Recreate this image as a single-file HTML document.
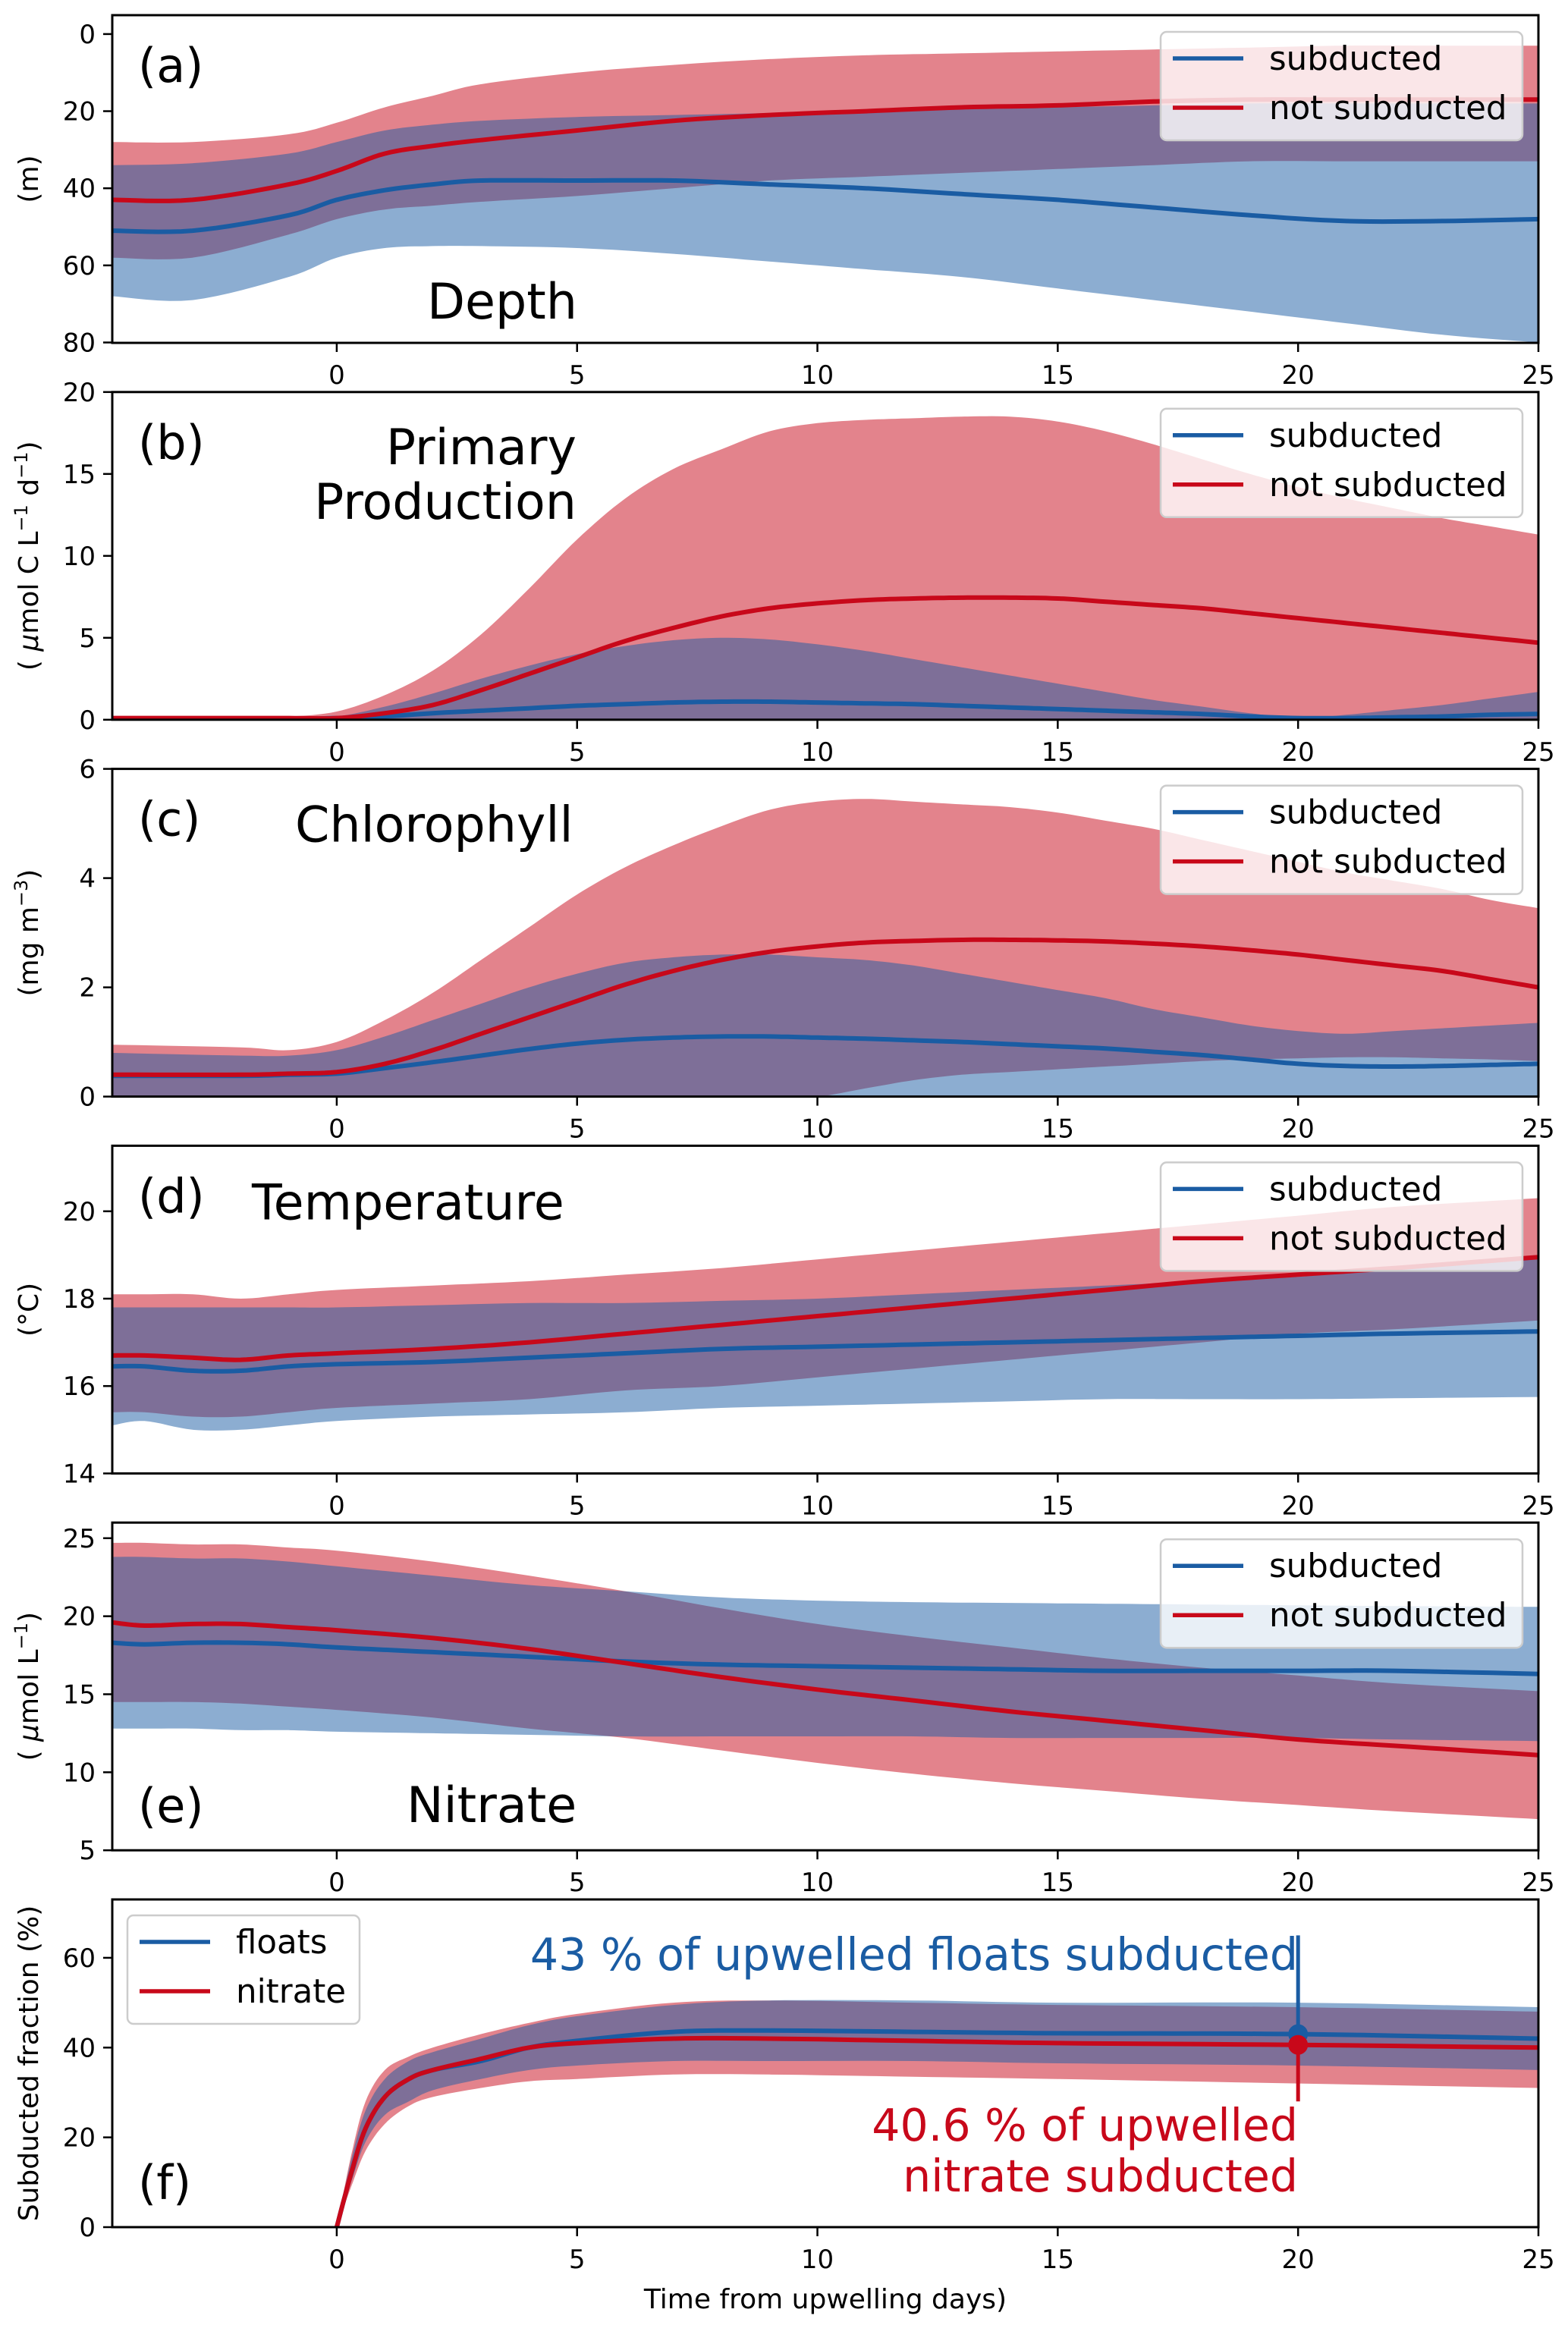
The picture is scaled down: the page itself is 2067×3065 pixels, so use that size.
<!DOCTYPE html>
<html><head><meta charset="utf-8">
<style>
html,body{margin:0;padding:0;background:#fff;}
svg{display:block;font-family:"DejaVu Sans","Liberation Sans",sans-serif;}
</style></head>
<body>
<svg id="fig" width="2067" height="3065" viewBox="0 0 2067 3065" xmlns="http://www.w3.org/2000/svg"></svg>
<script>
// ---------- data ----------
const daysA = [-4.67,-3,-1,0,1,2,3,5,7,9,11,13,15,17,19,21,23,25];
const aRedUp = [28,28,26,23,19,16,13,10,8,6.5,5.5,5,4.5,4,3.5,3,3,3];
const aRedLo = [58,58,52,48,45.5,44.5,43.5,42,40,38,37,36,35,34,33,33,33,33];
const aRedMean = [43,43,39,35.5,31,29,27.5,25,22.5,21,20,19,18.5,17.5,17,17,17,17];
const aBlueUp = [34,33.5,31,28,25,23.5,22.5,21.5,21,20.5,20,19.5,19,18.5,18,18,18,18];
const aBlueLo = [68,69,63,58,55.5,55,55,55.5,57,59,61,63,66,69,72,75,78,80];
const aBlueMean = [51,51,47,43,40.5,39,38,38,38,39,40,41.5,43,45,47,48.5,48.5,48];

const daysBC = [-4.67,-2,-1,0,1,2,3,4,5,6,7,8,9,10,11,12,13,14,15,16,17,18,19,20,21,22,23,24,25];
const bRedUp = [0.2,0.2,0.2,0.5,1.5,3,5.2,8,11,13.5,15.3,16.5,17.6,18.1,18.3,18.4,18.5,18.5,18.2,17.6,16.8,15.9,15,14.2,13.5,12.9,12.3,11.8,11.3];
const bRedLo = [0,0,0,0,0,0,0,0,0,0,0,0,0,0,0,0,0,0,0,0,0,0,0,0,0,0,0,0,0];
const bRedMean = [0.1,0.1,0.1,0.1,0.4,0.9,1.8,2.8,3.8,4.8,5.6,6.3,6.8,7.1,7.3,7.4,7.45,7.45,7.4,7.2,7.0,6.8,6.5,6.2,5.9,5.6,5.3,5.0,4.7];
const bBlueUp = [0.1,0.1,0.1,0.2,0.8,1.6,2.5,3.3,4.0,4.5,4.85,5.0,4.9,4.6,4.2,3.7,3.2,2.7,2.2,1.7,1.2,0.8,0.4,0.1,0.3,0.6,0.9,1.3,1.7];
const bBlueLo = [0,0,0,0,0,0,0,0,0,0,0,0,0,0,0,0,0,0,0,0,0,0,0,0,0,0,0,0,0];
const bBlueMean = [0.05,0.05,0.05,0.1,0.2,0.4,0.55,0.7,0.85,0.95,1.05,1.1,1.1,1.05,1.0,0.95,0.85,0.75,0.65,0.55,0.45,0.35,0.2,0.1,0.1,0.15,0.2,0.3,0.35];

const cRedUp = [0.95,0.9,0.85,1.0,1.4,1.9,2.5,3.1,3.7,4.2,4.6,4.95,5.25,5.4,5.45,5.4,5.35,5.3,5.2,5.05,4.9,4.7,4.5,4.3,4.1,3.95,3.8,3.6,3.45];
const cRedLo = [0,0,0,0,0,0,0,0,0,0,0,0,0,0,0.15,0.3,0.4,0.45,0.5,0.55,0.6,0.65,0.68,0.7,0.72,0.72,0.7,0.68,0.65];
const cRedMean = [0.4,0.4,0.42,0.45,0.6,0.85,1.15,1.45,1.75,2.05,2.3,2.5,2.65,2.75,2.82,2.85,2.87,2.87,2.86,2.84,2.8,2.75,2.68,2.6,2.5,2.4,2.3,2.15,2.0];
const cBlueUp = [0.8,0.75,0.75,0.85,1.1,1.4,1.7,2.0,2.25,2.45,2.55,2.6,2.6,2.55,2.5,2.4,2.25,2.1,1.95,1.8,1.6,1.45,1.3,1.2,1.15,1.2,1.25,1.3,1.35];
const cBlueLo = [0,0,0,0,0,0,0,0,0,0,0,0,0,0,0,0,0,0,0,0,0,0,0,0,0,0,0,0,0];
const cBlueMean = [0.38,0.38,0.4,0.42,0.52,0.63,0.75,0.87,0.97,1.04,1.08,1.1,1.1,1.08,1.06,1.03,1.0,0.96,0.92,0.88,0.82,0.76,0.68,0.6,0.56,0.55,0.56,0.58,0.6];

const daysDE = [-4.67,-4,-3,-2,-1,0,2,4,6,8,10,12,14,16,18,20,22,25];
const dRedUp = [18.1,18.1,18.1,18.0,18.1,18.2,18.3,18.4,18.55,18.7,18.9,19.1,19.3,19.5,19.7,19.9,20.1,20.3];
const dRedLo = [15.4,15.4,15.3,15.3,15.4,15.5,15.6,15.7,15.9,16.0,16.2,16.4,16.6,16.8,17.0,17.2,17.3,17.5];
const dRedMean = [16.7,16.7,16.65,16.6,16.7,16.75,16.85,17.0,17.2,17.4,17.6,17.8,18.0,18.2,18.4,18.55,18.7,18.95];
const dBlueUp = [17.8,17.8,17.8,17.8,17.8,17.8,17.85,17.9,17.9,17.95,18.0,18.1,18.2,18.3,18.4,18.5,18.7,19.0];
const dBlueLo = [15.1,15.2,15.0,15.0,15.1,15.2,15.3,15.35,15.4,15.5,15.55,15.6,15.65,15.7,15.7,15.7,15.72,15.75];
const dBlueMean = [16.45,16.45,16.35,16.35,16.45,16.5,16.55,16.65,16.75,16.85,16.9,16.95,17.0,17.05,17.1,17.15,17.2,17.25];

const eRedUp = [24.7,24.7,24.6,24.6,24.4,24.2,23.5,22.6,21.6,20.5,19.5,18.7,18.0,17.3,16.7,16.2,15.7,15.2];
const eRedLo = [14.5,14.5,14.5,14.4,14.2,14.0,13.5,12.8,12.2,11.4,10.6,9.9,9.3,8.8,8.3,7.9,7.5,7.0];
const eRedMean = [19.6,19.4,19.5,19.5,19.3,19.1,18.6,17.9,17.0,16.1,15.3,14.6,13.9,13.3,12.7,12.1,11.7,11.1];
const eBlueUp = [23.8,23.8,23.7,23.7,23.5,23.2,22.6,22.0,21.6,21.2,21.0,20.9,20.85,20.8,20.75,20.7,20.65,20.6];
const eBlueLo = [12.8,12.8,12.8,12.7,12.7,12.6,12.5,12.4,12.3,12.3,12.3,12.3,12.2,12.2,12.2,12.2,12.1,12.0];
const eBlueMean = [18.3,18.2,18.3,18.3,18.2,18.0,17.7,17.4,17.1,16.9,16.8,16.7,16.6,16.5,16.5,16.5,16.5,16.3];

const daysF = [0,0.3,0.6,1,1.5,2,3,4,5,7,9,12,15,20,25];
const fRedUp = [0,16,28,35,38,40,43,45.5,47.5,50,50.5,50,49.5,49,48];
const fRedLo = [0,9,17,23,27,29,31,32.5,33,34,34,33.5,33,32,31];
const fRedMean = [0,12,22,29,33,35,37.5,40,41,42,42,41.5,41,40.6,40];
const fBlueUp = [0,15,26,33,37,39,42,45,47,49.5,50.5,50.5,50,50,49];
const fBlueLo = [0,10,19,25,28,30.5,33,35,36,37,37,37,36.5,36,35];
const fBlueMean = [0,12,22,29,33,35,37,40,41.5,43.5,43.8,43.5,43.2,43,42];
const markerDay = 20;
const markerFloats = 43;
const markerNitrate = 40.6;

const xTicks = [0,5,10,15,20,25];
const yTicksA = [0,20,40,60,80];
const yTicksB = [0,5,10,15,20];
const yTicksC = [0,2,4,6];
const yTicksD = [14,16,18,20];
const yTicksE = [5,10,15,20,25];
const yTicksF = [0,20,40,60];

// ---------- drawing ----------
const NS = "http://www.w3.org/2000/svg";
const svg = document.getElementById('fig');
const X0 = 148, X1 = 2028, XMIN = -4.67, XMAX = 25;
const RED = '#c8081a', BLUE = '#1a5ca3';
function xs(d){ return X0 + (d - XMIN) / (XMAX - XMIN) * (X1 - X0); }
function mk(tag, attrs, parent){
  const e = document.createElementNS(NS, tag);
  for (const k in attrs) e.setAttribute(k, attrs[k]);
  (parent || svg).appendChild(e);
  return e;
}
function smooth(pts){
  const out = [];
  for (let i = 0; i < pts.length - 1; i++){
    const p0 = pts[Math.max(0,i-1)], p1 = pts[i], p2 = pts[i+1], p3 = pts[Math.min(pts.length-1,i+2)];
    for (let s = 0; s < 8; s++){
      const t = s/8, t2 = t*t, t3 = t2*t;
      const f = (a,b,c,d)=>0.5*((2*b)+(-a+c)*t+(2*a-5*b+4*c-d)*t2+(-a+3*b-3*c+d)*t3);
      out.push([f(p0[0],p1[0],p2[0],p3[0]), f(p0[1],p1[1],p2[1],p3[1])]);
    }
  }
  out.push(pts[pts.length-1]);
  return out;
}
function ptsStr(p){ return p.map(q=>q[0].toFixed(1)+','+q[1].toFixed(1)).join(' '); }

function panel(idx, cfg){
  const top = 20 + idx*496.8, H = 432, bot = top + H;
  const ys = v => top + (cfg.invert ? (v - cfg.ymin) : (cfg.ymax - v)) / (cfg.ymax - cfg.ymin) * H;
  const g = mk('g', {});
  
  
  const clipId = 'clip' + idx;
  const cp = mk('clipPath', {id: clipId}, g);
  mk('rect', {x: X0, y: top, width: X1-X0, height: H}, cp);
  const plot = mk('g', {'clip-path': 'url(#' + clipId + ')'}, g);
  const days = cfg.days;
  function band(up, lo, color, name){
    const u = smooth(days.map((d,i)=>[xs(d), ys(up[i])]));
    const l = smooth(days.map((d,i)=>[xs(d), ys(lo[i])])).reverse();
    const p = mk('polygon', {points: ptsStr(u.concat(l)), fill: color, 'fill-opacity': 0.5, stroke: 'none'}, plot);
    
    
  }
  function line(vals, color, name){
    const p = mk('polyline', {points: ptsStr(smooth(days.map((d,i)=>[xs(d), ys(vals[i])]))), fill: 'none', stroke: color, 'stroke-width': 6, 'stroke-linejoin': 'round'}, plot);
    
    
  }
  band(cfg.redUp, cfg.redLo, RED, cfg.redName + '-range-band');
  band(cfg.blueUp, cfg.blueLo, BLUE, cfg.blueName + '-range-band');
  line(cfg.blueMean, BLUE, cfg.blueName + '-mean-line');
  line(cfg.redMean, RED, cfg.redName + '-mean-line');
  if (cfg.markers){
    const mx = xs(markerDay);
    const v1 = mk('line', {x1: mx, x2: mx, y1: ys(markerFloats), y2: ys(65), stroke: BLUE, 'stroke-width': 5}, g);
    
    
    const v2 = mk('line', {x1: mx, x2: mx, y1: ys(markerNitrate), y2: ys(28), stroke: RED, 'stroke-width': 5}, g);
    
    
    const c1 = mk('circle', {cx: mx, cy: ys(markerFloats), r: 13, fill: BLUE}, g);
    
    
    const c2 = mk('circle', {cx: mx, cy: ys(markerNitrate), r: 13, fill: RED}, g);
    
    
  }
  const fr = mk('rect', {x: X0, y: top, width: X1-X0, height: H, fill: 'none', stroke: '#000', 'stroke-width': 3}, g);
  
  
  xTicks.forEach(t=>{
    const x = xs(t);
    mk('line', {x1: x, x2: x, y1: bot, y2: bot+12, stroke: '#000', 'stroke-width': 2.5}, g);
    const tx = mk('text', {x: x, y: bot+54, 'font-size': 34, 'text-anchor': 'middle', fill: '#000'}, g);
    tx.textContent = t;
    
    
  });
  cfg.yTicks.forEach(t=>{
    const y = ys(t);
    mk('line', {x1: X0-12, x2: X0, y1: y, y2: y, stroke: '#000', 'stroke-width': 2.5}, g);
    const tx = mk('text', {x: 126, y: y+12, 'font-size': 34, 'text-anchor': 'end', fill: '#000'}, g);
    tx.textContent = t;
    
    
  });
  const yl = mk('text', {x: 0, y: 0, 'font-size': 36, 'text-anchor': 'middle', fill: '#000', transform: 'translate(50,' + (top + H/2) + ') rotate(-90)'}, g);
  yl.innerHTML = cfg.ylabel;
  
  
  const pl = mk('text', {x: 182, y: top + cfg.letterY, 'font-size': 62, fill: '#000'}, g);
  pl.textContent = '(' + cfg.letter + ')';
  
  
  (cfg.titles || []).forEach(tt=>{
    const t = mk('text', {x: tt.x, y: top + tt.y, 'font-size': 65, fill: '#000', 'text-anchor': tt.anchor || 'start'}, g);
    t.textContent = tt.text;
    
    
  });
  const L = cfg.legend;
  const lg = mk('g', {}, g);
  
  
  mk('rect', {x: L.x, y: top + L.y, width: L.w, height: 143, rx: 8, fill: '#fff', 'fill-opacity': 0.8, stroke: '#cccccc', 'stroke-width': 2.5}, lg);
  [[BLUE, L.labels[0], 35], [RED, L.labels[1], 100]].forEach(([c, lab, dy])=>{
    const e = mk('g', {}, lg);
    
    
    mk('line', {x1: L.x+16, x2: L.x+109, y1: top+L.y+dy, y2: top+L.y+dy, stroke: c, 'stroke-width': 5.5}, e);
    const t = mk('text', {x: L.x+143, y: top+L.y+dy+15, 'font-size': 43.5, fill: '#000'}, e);
    t.textContent = lab;
  });
  return {top, ys};
}

const legSub = {x: 1530, y: 22, w: 477, labels: ['subducted','not subducted']};
panel(0, {letter:'a', days: daysA, invert: true, ymin: -4.9, ymax: 80.1, yTicks: yTicksA,
  redUp: aRedUp, redLo: aRedLo, redMean: aRedMean, blueUp: aBlueUp, blueLo: aBlueLo, blueMean: aBlueMean,
  redName:'not-subducted', blueName:'subducted', ylabel:'(m)', letterY: 88, legend: legSub,
  titles: [{text:'Depth', x: 662, y: 400, anchor:'middle'}]});
panel(1, {letter:'b', days: daysBC, ymin: 0, ymax: 20, yTicks: yTicksB,
  redUp: bRedUp, redLo: bRedLo, redMean: bRedMean, blueUp: bBlueUp, blueLo: bBlueLo, blueMean: bBlueMean,
  redName:'not-subducted', blueName:'subducted', ylabel:'( <tspan font-style="italic">μ</tspan>mol C L<tspan baseline-shift="super" font-size="24">−1</tspan> d<tspan baseline-shift="super" font-size="24">−1</tspan>)', letterY: 88, legend: legSub,
  titles: [{text:'Primary', x: 760, y: 95, anchor:'end'},{text:'Production', x: 760, y: 167, anchor:'end'}]});
panel(2, {letter:'c', days: daysBC, ymin: 0, ymax: 6, yTicks: yTicksC,
  redUp: cRedUp, redLo: cRedLo, redMean: cRedMean, blueUp: cBlueUp, blueLo: cBlueLo, blueMean: cBlueMean,
  redName:'not-subducted', blueName:'subducted', ylabel:'(mg m<tspan baseline-shift="super" font-size="24">−3</tspan>)', letterY: 88, legend: legSub,
  titles: [{text:'Chlorophyll', x: 389, y: 96}]});
panel(3, {letter:'d', days: daysDE, ymin: 14, ymax: 21.5, yTicks: yTicksD,
  redUp: dRedUp, redLo: dRedLo, redMean: dRedMean, blueUp: dBlueUp, blueLo: dBlueLo, blueMean: dBlueMean,
  redName:'not-subducted', blueName:'subducted', ylabel:'(°C)', letterY: 88, legend: legSub,
  titles: [{text:'Temperature', x: 332, y: 97}]});
panel(4, {letter:'e', days: daysDE, ymin: 5, ymax: 26, yTicks: yTicksE,
  redUp: eRedUp, redLo: eRedLo, redMean: eRedMean, blueUp: eBlueUp, blueLo: eBlueLo, blueMean: eBlueMean,
  redName:'not-subducted', blueName:'subducted', ylabel:'( <tspan font-style="italic">μ</tspan>mol L<tspan baseline-shift="super" font-size="24">−1</tspan>)', letterY: 395, legend: legSub,
  titles: [{text:'Nitrate', x: 536, y: 395}]});
const pf = panel(5, {letter:'f', days: daysF, ymin: 0, ymax: 73, yTicks: yTicksF, markers: true,
  redUp: fRedUp, redLo: fRedLo, redMean: fRedMean, blueUp: fBlueUp, blueLo: fBlueLo, blueMean: fBlueMean,
  redName:'nitrate', blueName:'floats', ylabel:'Subducted fraction (%)', letterY: 395,
  legend: {x: 168, y: 21, w: 306, labels: ['floats','nitrate']}});

const a1 = mk('text', {x: 1711, y: pf.top + 93, 'font-size': 58.5, 'text-anchor': 'end', fill: BLUE});
a1.textContent = '43 % of upwelled floats subducted';


const a2 = mk('text', {x: 1711, y: pf.top + 318, 'font-size': 58.5, 'text-anchor': 'end', fill: RED});
a2.textContent = '40.6 % of upwelled';


const a3 = mk('text', {x: 1711, y: pf.top + 385, 'font-size': 58.5, 'text-anchor': 'end', fill: RED});
a3.textContent = 'nitrate subducted';


const xl = mk('text', {x: 1088, y: 3043, 'font-size': 36, 'text-anchor': 'middle', fill: '#000'});
xl.textContent = 'Time from upwelling days)';


</script>
</body></html>
